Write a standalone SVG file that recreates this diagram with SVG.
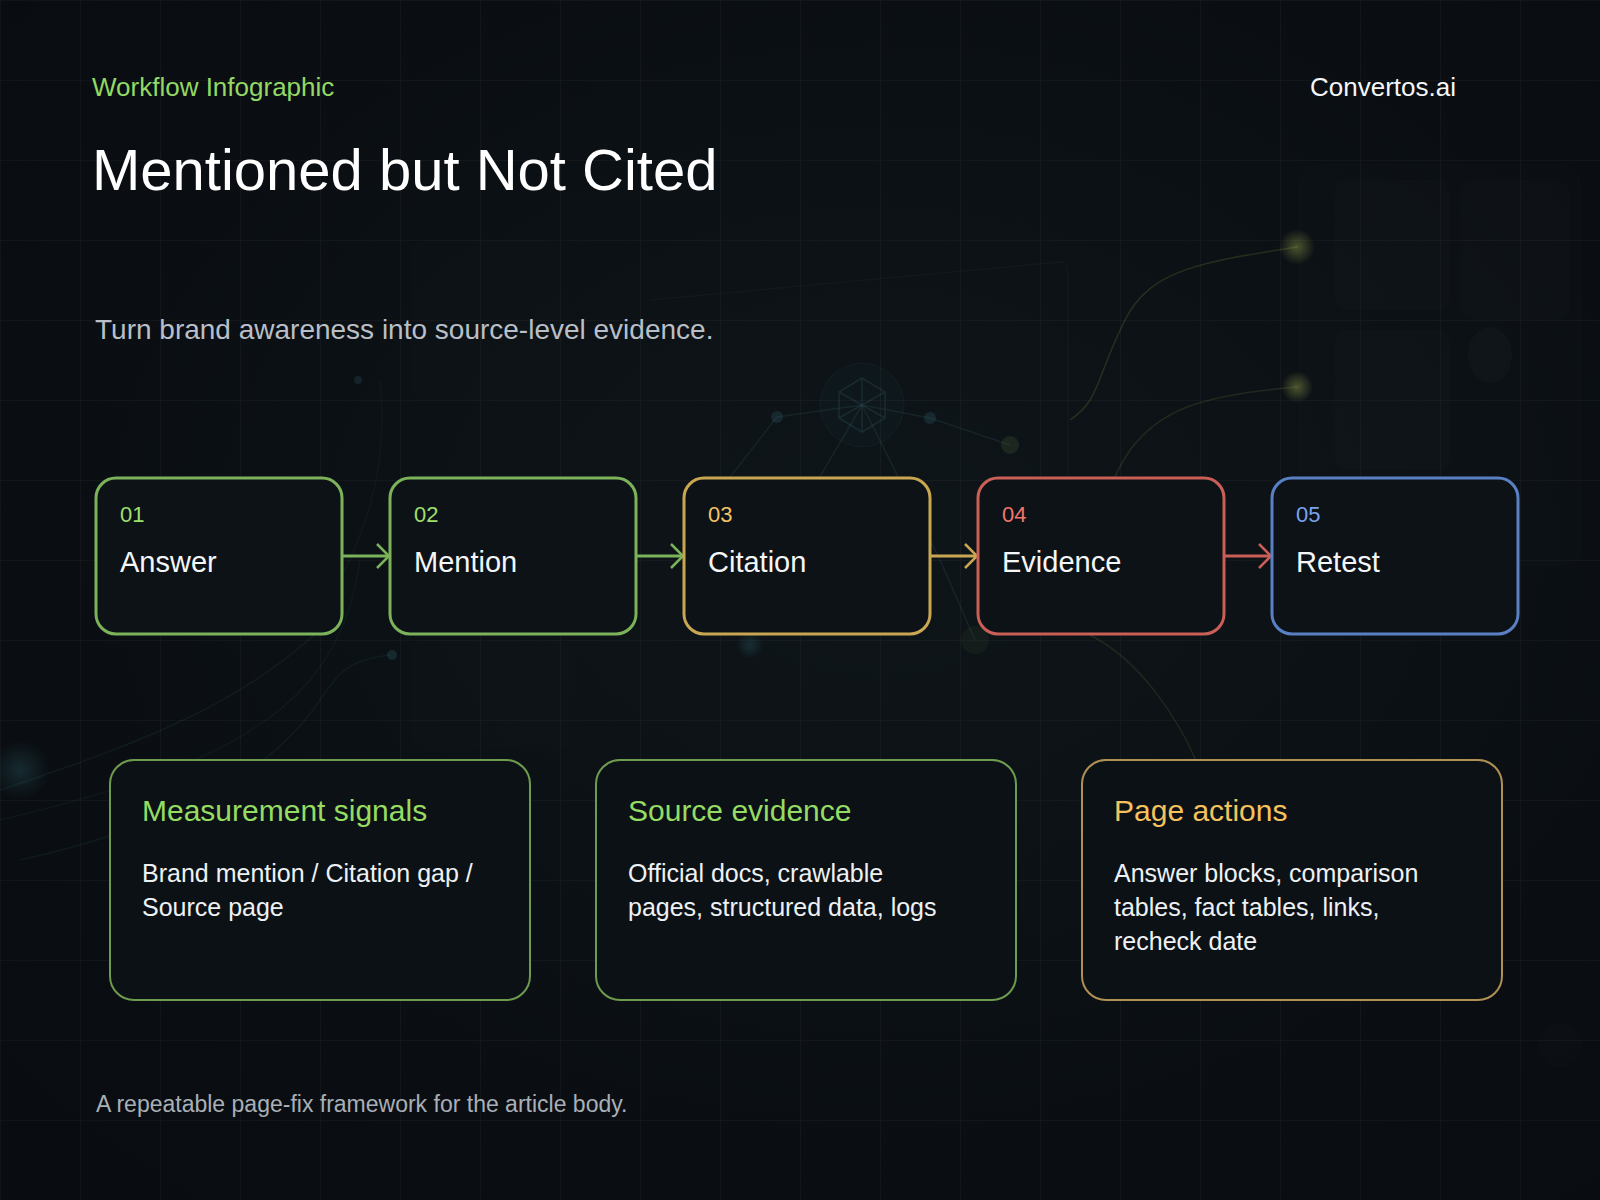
<svg xmlns="http://www.w3.org/2000/svg" width="1600" height="1200" viewBox="0 0 1600 1200">
  <defs>
    <pattern id="grid" width="80" height="80" patternUnits="userSpaceOnUse">
      <path d="M 80 0 L 0 0 0 80" fill="none" stroke="#ffffff" stroke-opacity="0.06" stroke-width="1.2"/>
    </pattern>
    <radialGradient id="glowY" cx="0.5" cy="0.5" r="0.5">
      <stop offset="0" stop-color="#c8d860" stop-opacity="0.45"/>
      <stop offset="1" stop-color="#c8d860" stop-opacity="0"/>
    </radialGradient>
    <radialGradient id="glowT" cx="0.5" cy="0.5" r="0.5">
      <stop offset="0" stop-color="#3f8f9a" stop-opacity="0.3"/>
      <stop offset="1" stop-color="#3f8f9a" stop-opacity="0"/>
    </radialGradient>
    <radialGradient id="vign" cx="0.55" cy="0.45" r="0.7">
      <stop offset="0" stop-color="#0e1519"/>
      <stop offset="1" stop-color="#090c10"/>
    </radialGradient>
    <marker id="arrG" viewBox="0 0 14 26" refX="13" refY="13" markerWidth="14" markerHeight="26" markerUnits="userSpaceOnUse" orient="auto">
      <path d="M1 1 L13 13 L1 25" fill="none" stroke="#7cb35a" stroke-width="2.5"/>
    </marker>
    <marker id="arrY" viewBox="0 0 14 26" refX="13" refY="13" markerWidth="14" markerHeight="26" markerUnits="userSpaceOnUse" orient="auto">
      <path d="M1 1 L13 13 L1 25" fill="none" stroke="#c9a752" stroke-width="2.5"/>
    </marker>
    <marker id="arrR" viewBox="0 0 14 26" refX="13" refY="13" markerWidth="14" markerHeight="26" markerUnits="userSpaceOnUse" orient="auto">
      <path d="M1 1 L13 13 L1 25" fill="none" stroke="#c95f57" stroke-width="2.5"/>
    </marker>
    <style>
      .sans { font-family: "Liberation Sans", Arial, Helvetica, sans-serif; }
      .node rect { fill: #0d1217; stroke-width: 3; }
      .num { font-size: 22px; }
      .lbl { font-size: 29px; fill: #f4f6f8; }
      .card rect { fill: #0c1116; stroke-width: 2; }
      .ctitle { font-size: 30px; }
      .cbody { font-size: 25px; fill: #eef1f4; }
      .deco { fill: none; stroke-width: 1.5; }
      .conn { fill: none; stroke-width: 3; }
    </style>
  </defs>

  <!-- background -->
  <rect x="0" y="0" width="1600" height="1200" fill="url(#vign)"/>
  <g id="decor" opacity="0.75">
    <rect x="1300" y="165" width="280" height="400" rx="20" fill="#ffffff" fill-opacity="0.01" stroke="#ffffff" stroke-opacity="0.025"/>
    <rect x="1335" y="180" width="115" height="130" rx="14" fill="#ffffff" fill-opacity="0.015"/>
    <rect x="1335" y="330" width="115" height="140" rx="14" fill="#ffffff" fill-opacity="0.015"/>
    <rect x="1460" y="180" width="110" height="140" rx="14" fill="#ffffff" fill-opacity="0.012"/>
    <ellipse cx="1490" cy="355" rx="22" ry="28" fill="#ffffff" fill-opacity="0.025"/>
    <path d="M 650 300 L 1060 262 Q 1068 262 1068 272 L 1068 560" class="deco" stroke="#ffffff" stroke-opacity="0.035"/>
    <rect x="410" y="240" width="150" height="160" rx="12" fill="#ffffff" fill-opacity="0.01"/>
    <rect x="410" y="640" width="160" height="110" rx="10" fill="#ffffff" fill-opacity="0.01"/>
    <path d="M 1297 247 C 1200 262 1150 270 1125 320 C 1095 380 1100 400 1070 420" class="deco" stroke="#a6ac4c" stroke-opacity="0.25"/>
    <path d="M 1297 387 C 1200 395 1160 410 1130 450 C 1110 480 1105 500 1100 540" class="deco" stroke="#a6ac4c" stroke-opacity="0.2"/>
    <path d="M 1090 635 C 1140 660 1180 720 1200 770" class="deco" stroke="#a6ac4c" stroke-opacity="0.18"/>
    <circle cx="1297" cy="247" r="18" fill="url(#glowY)"/>
    <circle cx="1297" cy="387" r="16" fill="url(#glowY)"/>
    <g stroke="#4a7f86" stroke-opacity="0.2" class="deco">
      <line x1="862" y1="405" x2="777" y2="417"/>
      <line x1="862" y1="405" x2="930" y2="418"/>
      <line x1="930" y1="418" x2="1010" y2="445"/>
      <line x1="862" y1="405" x2="780" y2="545"/>
      <line x1="862" y1="405" x2="940" y2="560"/>
      <line x1="777" y1="417" x2="712" y2="500"/>
      <line x1="940" y1="560" x2="975" y2="640"/>
    </g>
    <circle cx="862" cy="405" r="42" fill="#2e6b73" fill-opacity="0.07" stroke="#3e7f88" stroke-opacity="0.13"/>
    <path d="M 862 378 L 885 392 L 885 418 L 862 432 L 839 418 L 839 392 Z M 862 378 L 862 432 M 839 392 L 885 418 M 885 392 L 839 418" class="deco" stroke="#4d8f98" stroke-opacity="0.22"/>
    <circle cx="777" cy="417" r="6" fill="#3e7f88" fill-opacity="0.28"/>
    <circle cx="930" cy="418" r="6" fill="#3e7f88" fill-opacity="0.28"/>
    <circle cx="1010" cy="445" r="9" fill="#6f8f4c" fill-opacity="0.22"/>
    <circle cx="712" cy="500" r="6" fill="#3e7f88" fill-opacity="0.22"/>
    <circle cx="750" cy="645" r="14" fill="url(#glowT)"/>
    <circle cx="975" cy="640" r="14" fill="#6f8f4c" fill-opacity="0.1"/>
    <path d="M 0 790 C 150 740 250 700 330 620" class="deco" stroke="#3a7d86" stroke-opacity="0.16"/>
    <path d="M 0 820 C 170 780 260 740 310 680 C 330 655 350 625 360 560" class="deco" stroke="#3a7d86" stroke-opacity="0.12"/>
    <path d="M 20 860 C 200 820 280 760 320 700 C 340 670 350 660 390 655" class="deco" stroke="#3a7d86" stroke-opacity="0.14"/>
    <circle cx="392" cy="655" r="5" fill="#3a7d86" fill-opacity="0.3"/>
    <circle cx="20" cy="770" r="30" fill="url(#glowT)"/>
    <path d="M 330 600 C 360 540 390 480 380 380" class="deco" stroke="#3a7d86" stroke-opacity="0.1"/>
    <circle cx="358" cy="380" r="4" fill="#3a7d86" fill-opacity="0.25"/>
    <circle cx="1560" cy="1045" r="22" fill="#ffffff" fill-opacity="0.018"/>
  </g>
  <rect x="0" y="0" width="1600" height="1200" fill="url(#grid)"/>

  <!-- header -->
  <g id="header" class="sans">
    <text x="92" y="96" font-size="26" fill="#93d964">Workflow Infographic</text>
    <text x="1456" y="96" font-size="26" fill="#f4f6f8" text-anchor="end">Convertos.ai</text>
    <text x="92" y="190" font-size="58" fill="#ffffff">Mentioned but Not Cited</text>
    <text x="95" y="339" font-size="28" fill="#b9bfc7">Turn brand awareness into source-level evidence.</text>
  </g>

  <!-- connectors -->
  <g id="connectors">
    <line class="conn" x1="342" y1="556" x2="389" y2="556" stroke="#7cb35a" marker-end="url(#arrG)"/>
    <line class="conn" x1="636" y1="556" x2="683" y2="556" stroke="#7cb35a" marker-end="url(#arrG)"/>
    <line class="conn" x1="930" y1="556" x2="977" y2="556" stroke="#c9a752" marker-end="url(#arrY)"/>
    <line class="conn" x1="1224" y1="556" x2="1271" y2="556" stroke="#c95f57" marker-end="url(#arrR)"/>
  </g>

  <!-- step nodes -->
  <g id="node-01" class="node sans">
    <rect x="96" y="478" width="246" height="156" rx="20" stroke="#7cb35a"/>
    <text class="num" x="120" y="522" fill="#9ee06c">01</text>
    <text class="lbl" x="120" y="572">Answer</text>
  </g>
  <g id="node-02" class="node sans">
    <rect x="390" y="478" width="246" height="156" rx="20" stroke="#7cb35a"/>
    <text class="num" x="414" y="522" fill="#9ee06c">02</text>
    <text class="lbl" x="414" y="572">Mention</text>
  </g>
  <g id="node-03" class="node sans">
    <rect x="684" y="478" width="246" height="156" rx="20" stroke="#c9a752"/>
    <text class="num" x="708" y="522" fill="#f3c462">03</text>
    <text class="lbl" x="708" y="572">Citation</text>
  </g>
  <g id="node-04" class="node sans">
    <rect x="978" y="478" width="246" height="156" rx="20" stroke="#c95f57"/>
    <text class="num" x="1002" y="522" fill="#f2766a">04</text>
    <text class="lbl" x="1002" y="572">Evidence</text>
  </g>
  <g id="node-05" class="node sans">
    <rect x="1272" y="478" width="246" height="156" rx="20" stroke="#5a80c4"/>
    <text class="num" x="1296" y="522" fill="#79a4ec">05</text>
    <text class="lbl" x="1296" y="572">Retest</text>
  </g>

  <!-- info cards -->
  <g id="card-measurement" class="card sans">
    <rect x="110" y="760" width="420" height="240" rx="24" stroke="#6f9b4f"/>
    <text class="ctitle" x="142" y="821" fill="#95dc63">Measurement signals</text>
    <text class="cbody" x="142" y="882">Brand mention / Citation gap /</text>
    <text class="cbody" x="142" y="916">Source page</text>
  </g>
  <g id="card-source" class="card sans">
    <rect x="596" y="760" width="420" height="240" rx="24" stroke="#6f9b4f"/>
    <text class="ctitle" x="628" y="821" fill="#95dc63">Source evidence</text>
    <text class="cbody" x="628" y="882">Official docs, crawlable</text>
    <text class="cbody" x="628" y="916">pages, structured data, logs</text>
  </g>
  <g id="card-actions" class="card sans">
    <rect x="1082" y="760" width="420" height="240" rx="24" stroke="#b09055"/>
    <text class="ctitle" x="1114" y="821" fill="#f5c25e">Page actions</text>
    <text class="cbody" x="1114" y="882">Answer blocks, comparison</text>
    <text class="cbody" x="1114" y="916">tables, fact tables, links,</text>
    <text class="cbody" x="1114" y="950">recheck date</text>
  </g>

  <!-- footer -->
  <g id="footer" class="sans">
    <text x="96" y="1112" font-size="23" fill="#a9afb7">A repeatable page-fix framework for the article body.</text>
  </g>
</svg>
